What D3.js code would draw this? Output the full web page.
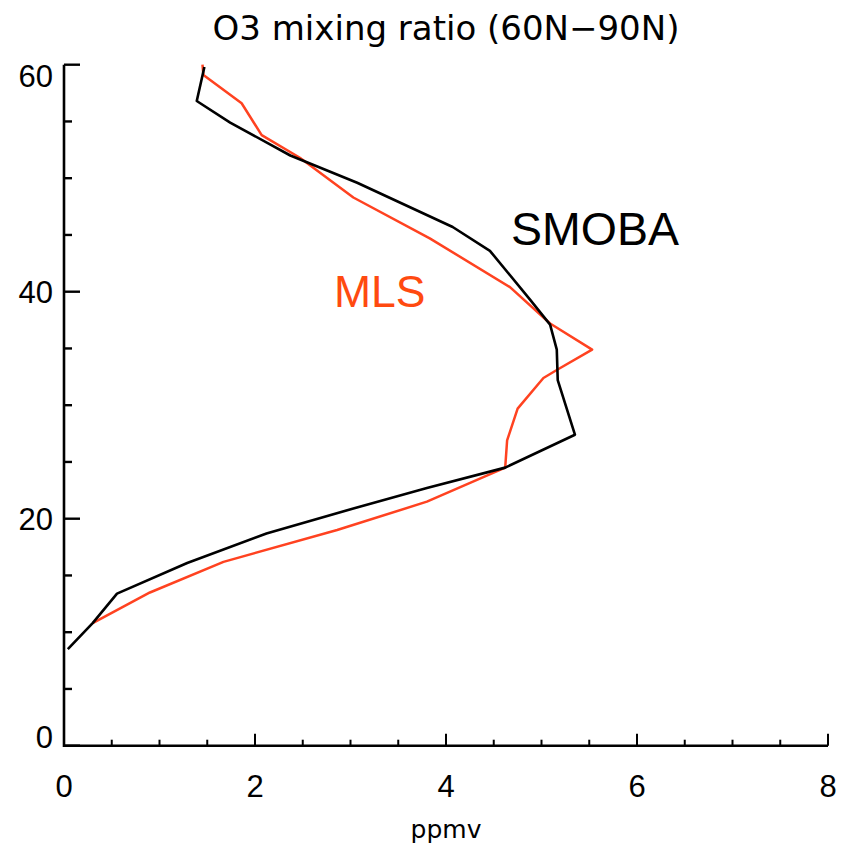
<!DOCTYPE html>
<html>
<head>
<meta charset="utf-8">
<script src="https://cdn.jsdelivr.net/npm/d3@7"></script>
<style>
  html, body { margin: 0; padding: 0; background: #fff; }
  svg { display: block; }
</style>
</head>
<body>
<svg id="chart" width="853" height="848"></svg>
<script>
// ---- Data (ppmv vs altitude km) ----
const smobaPpmv = [1.47, 1.39, 1.74, 2.37, 3.07, 4.07, 4.46, 4.88, 5.09, 5.16, 5.17, 5.35, 4.62, 3.80, 3.03, 2.12, 1.29, 0.555, 0.30, 0.04];
const smobaAlt  = [59.8, 56.8, 54.9, 52.0, 49.6, 45.7, 43.6, 39.3, 37.1, 34.9, 32.2, 27.4, 24.5, 22.7, 20.9, 18.7, 16.1, 13.4, 10.8, 8.5];
const mlsPpmv = [1.45, 1.46, 1.86, 2.07, 2.47, 3.03, 3.83, 4.67, 5.09, 5.53, 5.16, 5.02, 4.75, 4.64, 4.62, 3.80, 2.86, 1.67, 0.90, 0.30];
const mlsAlt  = [60.0, 59.1, 56.6, 53.8, 51.8, 48.3, 44.7, 40.4, 37.2, 34.9, 33.1, 32.4, 29.7, 26.9, 24.5, 21.5, 19.0, 16.2, 13.5, 10.8];
const xMajorTicks = [0, 2, 4, 6, 8];
const yMajorTicks = [0, 20, 40, 60];
const titleText = "O3 mixing ratio (60N\u221290N)";
const xLabel = "ppmv";
const seriesNames = ["SMOBA", "MLS"];
const seriesColors = ["#000000", "#ff4220"];

const svg = d3.select("#chart");
const x = d3.scaleLinear().domain([0, 8]).range([64, 828]);
const y = d3.scaleLinear().domain([0, 60]).range([745.7, 64.7]);

// Title
svg.append("text")
  .attr("x", 446).attr("y", 40)
  .attr("text-anchor", "middle")
  .attr("font-family", "DejaVu Sans")
  .attr("font-size", 34)
  .attr("fill", "#000")
  .text(titleText);

// Axes lines
const axisW = 2.6;
svg.append("line")
  .attr("x1", x(0)).attr("x2", x(8)).attr("y1", y(0)).attr("y2", y(0))
  .attr("stroke", "#000").attr("stroke-width", axisW);
svg.append("line")
  .attr("x1", x(0)).attr("x2", x(0)).attr("y1", y(0) + axisW / 2).attr("y2", y(60))
  .attr("stroke", "#000").attr("stroke-width", axisW);

// X ticks
const xMinor = d3.range(0, 8.001, 0.5);
svg.selectAll(".xt").data(xMinor).enter().append("line")
  .attr("x1", d => x(d)).attr("x2", d => x(d))
  .attr("y1", y(0))
  .attr("y2", d => y(0) - (xMajorTicks.includes(d) ? 12 : 6))
  .attr("stroke", "#000").attr("stroke-width", 2);
svg.selectAll(".xl").data(xMajorTicks).enter().append("text")
  .attr("x", d => x(d)).attr("y", 797)
  .attr("text-anchor", "middle")
  .attr("font-family", "Liberation Sans")
  .attr("font-size", 31)
  .attr("fill", "#000")
  .text(d => d);

// Y ticks
const yMinor = d3.range(0, 60.001, 5);
svg.selectAll(".yt").data(yMinor).enter().append("line")
  .attr("y1", d => y(d)).attr("y2", d => y(d))
  .attr("x1", x(0))
  .attr("x2", d => x(0) + (yMajorTicks.includes(d) ? 16 : 8))
  .attr("stroke", "#000").attr("stroke-width", 2.4);
svg.selectAll(".yl").data(yMajorTicks).enter().append("text")
  .attr("x", 53)
  .attr("y", d => Math.min(Math.max(y(d), y(60) + 11), y(0) - 9))
  .attr("dy", "0.36em")
  .attr("text-anchor", "end")
  .attr("font-family", "Liberation Sans")
  .attr("font-size", 31)
  .attr("fill", "#000")
  .text(d => d);

// X label
svg.append("text")
  .attr("x", 446).attr("y", 838)
  .attr("text-anchor", "middle")
  .attr("font-family", "DejaVu Sans")
  .attr("font-size", 25)
  .attr("fill", "#000")
  .text(xLabel);

// Lines
const line = d3.line().x(d => x(d[0])).y(d => y(d[1]));
const smoba = smobaPpmv.map((v, i) => [v, smobaAlt[i]]);
const mls = mlsPpmv.map((v, i) => [v, mlsAlt[i]]);

svg.append("path").datum(mls)
  .attr("d", line).attr("fill", "none")
  .attr("stroke", seriesColors[1]).attr("stroke-width", 2.5)
  .attr("stroke-linejoin", "round");
svg.append("path").datum(smoba)
  .attr("d", line).attr("fill", "none")
  .attr("stroke", seriesColors[0]).attr("stroke-width", 2.6)
  .attr("stroke-linejoin", "round");

// Series labels
svg.append("text")
  .attr("x", 511).attr("y", 245)
  .attr("font-family", "Liberation Sans")
  .attr("font-size", 46.5)
  .attr("fill", seriesColors[0])
  .text(seriesNames[0]);
svg.append("text")
  .attr("x", 334).attr("y", 306.5)
  .attr("font-family", "Liberation Sans")
  .attr("font-size", 44.5)
  .attr("fill", "#ff4a10")
  .text(seriesNames[1]);
</script>
</body>
</html>
